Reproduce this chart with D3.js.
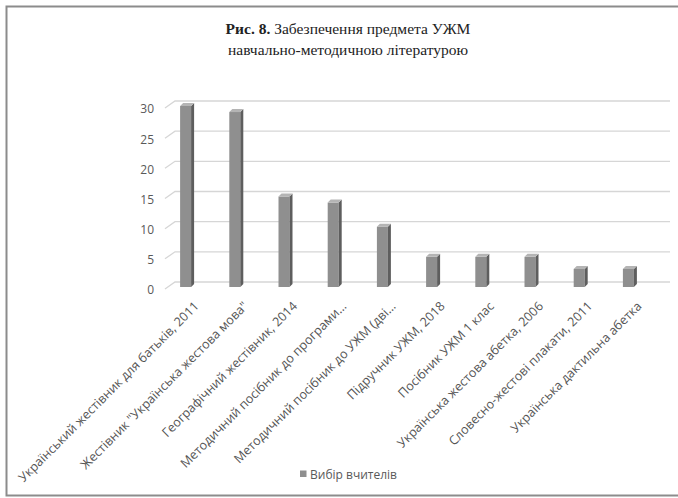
<!DOCTYPE html>
<html><head><meta charset="utf-8">
<script src="https://cdn.jsdelivr.net/npm/d3@7"></script>
<style>
html,body{margin:0;padding:0;background:#fff;}
svg{display:block;}
</style></head>
<body>
<svg id="chart" width="678" height="498"></svg>
<script>
const categories = [
  "Український жестівник для батьків, 2011",
  "Жестівник \"Українська жестова мова\"",
  "Географічний жестівник, 2014",
  "Методичний посібник до програми…",
  "Методичний посібник до УЖМ (дві…",
  "Підручник УЖМ, 2018",
  "Посібник УЖМ 1 клас",
  "Українська жестова абетка, 2006",
  "Словесно-жестові плакати, 2011",
  "Українська дактильна абетка"
];
const values = [30, 29, 15, 14, 10, 5, 5, 5, 3, 3];
const yTicks = [0, 5, 10, 15, 20, 25, 30];
const seriesName = "Вибір вчителів";
const titleBold = "Рис. 8.";
const titleLine1 = " Забезпечення предмета УЖМ";
const titleLine2 = "навчально-методичною літературою";

const svg = d3.select("#chart");
const depthX = 10, depthY = 7;

// frame
svg.append("rect").attr("x", 6.5).attr("y", 6.5).attr("width", 690).attr("height", 489)
  .attr("fill", "none").attr("stroke", "#8c8c8c").attr("stroke-width", 2);

// title
const t = svg.append("text").attr("x", 348).attr("y", 34).attr("text-anchor", "middle")
  .attr("font-family", "Liberation Serif, serif").attr("font-size", 15.5).attr("fill", "#222");
t.append("tspan").attr("font-weight", "bold").text(titleBold);
t.append("tspan").text(titleLine1);
svg.append("text").attr("x", 348).attr("y", 55).attr("text-anchor", "middle")
  .attr("font-family", "Liberation Serif, serif").attr("font-size", 15.5).attr("fill", "#222")
  .text(titleLine2);

const x = d3.scaleBand().domain(categories).range([162, 654]).paddingInner(0).paddingOuter(0);
const y = d3.scaleLinear().domain([0, 30]).range([288, 107]);

// gridlines (back wall + side wall diagonal)
const grid = svg.append("g");
yTicks.forEach(v => {
  const yy = y(v);
  grid.append("path")
    .attr("d", `M165,${yy + 1}L${165 + depthX},${yy + 1 - depthY}L670,${yy + 1 - depthY}`)
    .attr("fill", "none").attr("stroke", "#d6d6d6").attr("stroke-width", 1.3);
});

// y axis labels
const yAxis = d3.axisLeft(y).tickValues(yTicks).tickSize(0).tickPadding(0);
const ya = svg.append("g").attr("transform", "translate(154,2)").call(yAxis);
ya.select(".domain").remove();
ya.selectAll("text").attr("font-family", "Open Sans, sans-serif").attr("font-size", 12).attr("fill", "#595959");

// bars (3D look)
const bw = 11, bd = 3;
const bars = svg.append("g");
categories.forEach((c, i) => {
  const cx = x(c) + x.bandwidth() / 2;
  const x0 = cx - 6.5;
  const top = y(values[i]) - 1;
  const bot = y(0) - 1;
  bars.append("rect").attr("x", x0).attr("y", top).attr("width", bw).attr("height", bot - top)
    .attr("fill", "#8f8f8f");
  bars.append("path")
    .attr("d", `M${x0 + bw},${top}L${x0 + bw + bd},${top - bd}L${x0 + bw + bd},${bot - bd}L${x0 + bw},${bot}Z`)
    .attr("fill", "#5e5e5e");
  bars.append("path")
    .attr("d", `M${x0},${top}L${x0 + bd},${top - bd}L${x0 + bw + bd},${top - bd}L${x0 + bw},${top}Z`)
    .attr("fill", "#b4b4b4");
});

// x labels
const xl = svg.append("g");
categories.forEach(c => {
  const cx = x(c) + x.bandwidth() / 2;
  xl.append("text")
    .attr("transform", `translate(${cx + 13},${307}) rotate(-45)`)
    .attr("text-anchor", "end")
    .attr("font-family", "Open Sans, sans-serif").attr("font-size", 12.6).attr("fill", "#555")
    .text(c);
});

// legend
svg.append("rect").attr("x", 300).attr("y", 470.5).attr("width", 6.5).attr("height", 6.5).attr("fill", "#8f8f8f");
svg.append("text").attr("x", 310).attr("y", 478.5)
  .attr("font-family", "Open Sans, sans-serif").attr("font-size", 12).attr("fill", "#595959")
  .text(seriesName);
</script>
</body></html>
